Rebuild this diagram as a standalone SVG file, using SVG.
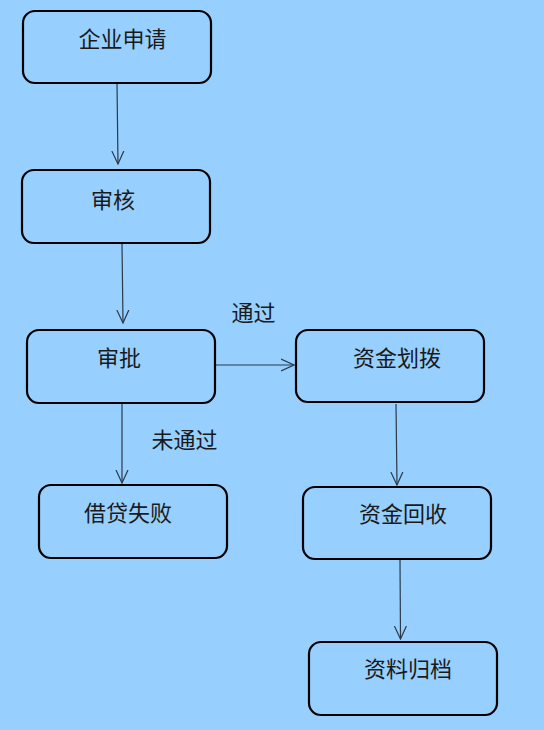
<svg xmlns="http://www.w3.org/2000/svg" width="544" height="730" viewBox="0 0 544 730">
<defs>
<style>
.box{fill:none;stroke:#000;stroke-width:2.2}
.t{font-family:"Noto Sans CJK SC","Noto Sans",sans-serif;font-size:22px;fill:#1a1a1a;text-anchor:middle;dominant-baseline:central}
.c{fill:none;stroke:#2a3a4a;stroke-width:1.2}
</style>
<marker id="ah" viewBox="0 0 14 14" refX="13" refY="7" markerWidth="14" markerHeight="14" markerUnits="userSpaceOnUse" orient="auto">
<path d="M0,1 L13,7 L0,13" fill="none" stroke="#2a3a4a" stroke-width="1.2"/>
</marker>
</defs>
<rect width="544" height="730" fill="#97cfff"/>
<g id="connectors">
<line class="c" x1="117" y1="84" x2="118" y2="164" marker-end="url(#ah)"/>
<line class="c" x1="122" y1="244" x2="123" y2="323" marker-end="url(#ah)"/>
<line class="c" x1="215" y1="365" x2="294" y2="365" marker-end="url(#ah)"/>
<line class="c" x1="122" y1="404" x2="122" y2="483" marker-end="url(#ah)"/>
<line class="c" x1="396" y1="404" x2="397" y2="485" marker-end="url(#ah)"/>
<line class="c" x1="400" y1="560" x2="400.5" y2="639" marker-end="url(#ah)"/>
<text class="t" x="253.5" y="311">通过</text>
<text class="t" x="184.5" y="438">未通过</text>
</g>
<g id="n1"><rect class="box" x="23" y="11" width="188" height="72" rx="12"/><text class="t" x="122.5" y="36.5">企业申请</text></g>
<g id="n2"><rect class="box" x="22" y="170" width="188" height="73" rx="12"/><text class="t" x="113" y="197.5">审核</text></g>
<g id="n3"><rect class="box" x="27" y="330" width="188" height="73" rx="12"/><text class="t" x="119" y="356">审批</text></g>
<g id="n4"><rect class="box" x="296" y="330" width="188" height="72" rx="12"/><text class="t" x="397" y="356">资金划拨</text></g>
<g id="n5"><rect class="box" x="39" y="485" width="188" height="73" rx="12"/><text class="t" x="128" y="510.5">借贷失败</text></g>
<g id="n6"><rect class="box" x="303" y="487" width="188" height="72" rx="12"/><text class="t" x="403" y="512">资金回收</text></g>
<g id="n7"><rect class="box" x="309" y="642" width="188" height="73" rx="12"/><text class="t" x="408" y="667">资料归档</text></g>
</svg>
